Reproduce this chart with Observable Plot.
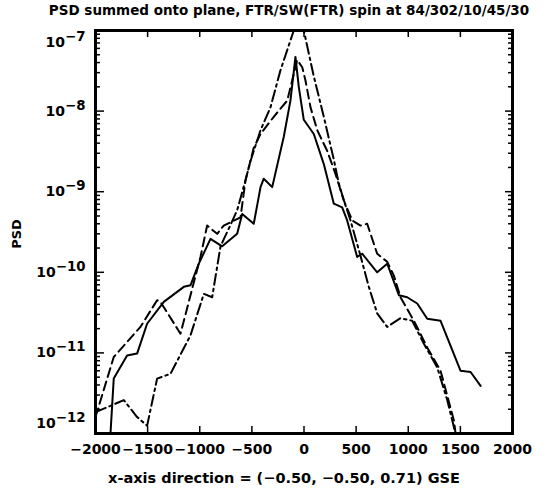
<!DOCTYPE html>
<html>
<head>
<meta charset="utf-8">
<script src="https://cdn.jsdelivr.net/npm/d3@7"></script>
<script src="https://cdn.jsdelivr.net/npm/@observablehq/plot@0.6"></script>
<style>
  html, body { margin: 0; padding: 0; background: #fff; }
  #wrap { position: relative; width: 547px; height: 497px; font-family: "DejaVu Sans", sans-serif; font-weight: bold; color: #000; }
  #wrap svg { position: absolute; left: 0; top: 0; }
  .lbl { position: absolute; white-space: nowrap; font-size: 13px; line-height: 1; }
</style>
</head>
<body>
<div id="wrap"></div>
<script>
// ---- data ----
const titleText = "PSD summed onto plane, FTR/SW(FTR) spin at 84/302/10/45/30";
const xLabelText = "x-axis direction = (\u22120.50, \u22120.50, 0.71) GSE";
const yLabelText = "PSD";

const xTicks = [-2000, -1500, -1000, -500, 0, 500, 1000, 1500, 2000];
const yMajorTicks = [1e-12, 1e-11, 1e-10, 1e-9, 1e-8, 1e-7];
const yMinorMult = [2, 3, 4, 5, 6, 7, 8, 9];

const solidX = [-1870, -1825, -1697, -1601, -1505, -1345, -1153, -1089, -1010, -897, -785, -641, -593, -482, -417, -386, -305, -194, -130, -82, -50, -2, 94, 190, 286, 366, 414, 510, 558, 702, 798, 910, 990, 1086, 1182, 1310, 1502, 1598, 1694];
const solidY = [5e-13, 4.8e-12, 9.3e-12, 9.8e-12, 2.3e-11, 4.3e-11, 6.6e-11, 6.9e-11, 1.27e-10, 2.6e-10, 2.1e-10, 3.0e-10, 5.3e-10, 4.0e-10, 1.14e-9, 1.45e-9, 1.14e-9, 4.8e-9, 1.35e-8, 4.7e-8, 2.0e-8, 7.8e-9, 5.2e-9, 2.2e-9, 7.1e-10, 6.4e-10, 4.4e-10, 1.55e-10, 1.7e-10, 1.0e-10, 1.28e-10, 5.2e-11, 4.9e-11, 4.1e-11, 2.65e-11, 2.5e-11, 6.0e-12, 5.8e-12, 3.9e-12];

const dashedX = [-2000, -1825, -1569, -1409, -1377, -1185, -993, -929, -833, -770, -609, -561, -482, -417, -290, -161, -65, -17, 14, 62, 127, 223, 302, 382, 462, 542, 606, 702, 798, 862, 926, 1054, 1182, 1310, 1438, 1454, 1480];
const dashedY = [1.6e-12, 8.9e-12, 2.1e-11, 4.5e-11, 4.3e-11, 1.73e-11, 1.55e-10, 3.8e-10, 3.0e-10, 3.8e-10, 4.8e-10, 1.39e-9, 3.5e-9, 5.2e-9, 8.5e-9, 1.35e-8, 4.3e-8, 3.5e-8, 2.4e-8, 1.12e-8, 5.8e-9, 3.2e-9, 1.66e-9, 7.8e-10, 4.4e-10, 3.8e-10, 4.0e-10, 1.7e-10, 1.35e-10, 9.1e-11, 4.9e-11, 2.5e-11, 1.17e-11, 6.0e-12, 1.45e-12, 1e-12, 5e-13];

const dashdotX = [-2000, -1857, -1729, -1601, -1505, -1409, -1281, -1089, -961, -881, -801, -700, -641, -561, -513, -417, -321, -226, -98, -45, -2, 94, 190, 286, 334, 382, 446, 542, 622, 702, 798, 926, 1038, 1150, 1278, 1374, 1438, 1465];
const dashdotY = [1.84e-12, 2.2e-12, 2.6e-12, 1.6e-12, 1.25e-12, 4.8e-12, 5.5e-12, 1.65e-11, 5.4e-11, 4.9e-11, 2.1e-10, 4.0e-10, 5.9e-10, 1.39e-9, 2.4e-9, 5.8e-9, 1.12e-8, 3.2e-8, 1.0e-7, 1.8e-7, 1.0e-7, 2.7e-8, 8.5e-9, 2.5e-9, 1.26e-9, 7.8e-10, 4.4e-10, 1.6e-10, 6.6e-11, 3.1e-11, 2.1e-11, 2.7e-11, 2.5e-11, 1.3e-11, 6.6e-12, 2.6e-12, 1.2e-12, 5e-13];

// ---- build tables ----
const toRows = (xs, ys) => xs.map((x, i) => ({x, y: ys[i]}));
const solid = toRows(solidX, solidY);
const dashed = toRows(dashedX, dashedY);
const dashdot = toRows(dashdotX, dashdotY);
const yMinorTicks = yMajorTicks.slice(0, -1).flatMap(d => yMinorMult.map(m => d * m));

const fmtX = d => (d < 0 ? "\u2212" + Math.abs(d) : String(d));
const fmtY = d => "10^" + Math.round(Math.log10(d));
const blank = () => "";

const plot = Plot.plot({
  width: 547,
  height: 497,
  marginTop: 30,
  marginBottom: 64,
  marginLeft: 95,
  marginRight: 35,
  style: {fontFamily: "DejaVu Sans", fontSize: "13px", fontWeight: "bold", color: "#000", background: "#fff"},
  x: {type: "linear", domain: [-2000, 2000]},
  y: {type: "log", domain: [1e-12, 1e-7]},
  marks: [
    Plot.line(solid, {x: "x", y: "y", stroke: "#000", strokeWidth: 2, clip: true}),
    Plot.line(dashed, {x: "x", y: "y", stroke: "#000", strokeWidth: 2, strokeDasharray: "9,5", clip: true}),
    Plot.line(dashdot, {x: "x", y: "y", stroke: "#000", strokeWidth: 2, strokeDasharray: "11,4,2.5,4", clip: true}),
    // inward ticks
    Plot.axisX({anchor: "bottom", ticks: xTicks.slice(1, -1), tickSize: 7, dy: -7, tickFormat: blank, label: null, strokeWidth: 1.5}),
    Plot.axisX({anchor: "top", ticks: xTicks.slice(1, -1), tickSize: 6, dy: 6, tickFormat: blank, label: null, strokeWidth: 1.5}),
    Plot.axisY({anchor: "left", ticks: yMajorTicks, tickSize: 9, dx: 9, tickFormat: blank, label: null, strokeWidth: 1.5}),
    Plot.axisY({anchor: "left", ticks: yMinorTicks, tickSize: 5, dx: 5, tickFormat: blank, label: null, strokeWidth: 1.5}),
    Plot.axisY({anchor: "right", ticks: yMajorTicks, tickSize: 8, dx: -8, tickFormat: blank, label: null, strokeWidth: 1.5}),
    Plot.axisY({anchor: "right", ticks: yMinorTicks, tickSize: 5, dx: -5, tickFormat: blank, label: null, strokeWidth: 1.5}),
    // tick labels
    Plot.axisX({anchor: "bottom", ticks: xTicks, tickSize: 0, tickPadding: 11, tickFormat: fmtX, label: null, fontSize: 14}),
    Plot.axisY({anchor: "left", ticks: yMajorTicks, tickSize: 0, tickPadding: 10, tickFormat: fmtY, label: null, fontSize: 14}),
    Plot.frame({stroke: "#000", strokeWidth: 3})
  ]
});

// superscript exponents on the y tick labels, end labels pulled inside
plot.querySelectorAll("text").forEach(t => {
  const s = t.textContent;
  if (s.startsWith("10^")) {
    const e = s.slice(3).replace("-", "\u2212");
    t.textContent = "";
    const base = document.createElementNS("http://www.w3.org/2000/svg", "tspan");
    base.textContent = "10";
    const sup = document.createElementNS("http://www.w3.org/2000/svg", "tspan");
    sup.textContent = e;
    sup.setAttribute("dy", "-0.45em");
    sup.setAttribute("font-size", "0.95em");
    t.appendChild(base);
    t.appendChild(sup);
    let shift = 0;
    if (e === "\u22127") shift = 12;
    if (e === "\u221212") shift = -10;
    if (shift) {
      const tr = t.getAttribute("transform") || "";
      t.setAttribute("transform", tr + ` translate(0,${shift})`);
    }
  }
});

const wrap = document.getElementById("wrap");
wrap.appendChild(plot);

function addLabel(text, css) {
  const d = document.createElement("div");
  d.className = "lbl";
  d.textContent = text;
  Object.assign(d.style, css);
  wrap.appendChild(d);
  return d;
}
addLabel(titleText, {left: "0px", width: "578px", top: "4px", textAlign: "center", fontSize: "13.5px"});
addLabel(xLabelText, {left: "0px", width: "568px", top: "471px", textAlign: "center", fontSize: "14.5px"});
addLabel(yLabelText, {left: "16px", top: "234px", transform: "translate(-50%,-50%) rotate(-90deg)", fontSize: "13px"});
</script>
</body>
</html>
